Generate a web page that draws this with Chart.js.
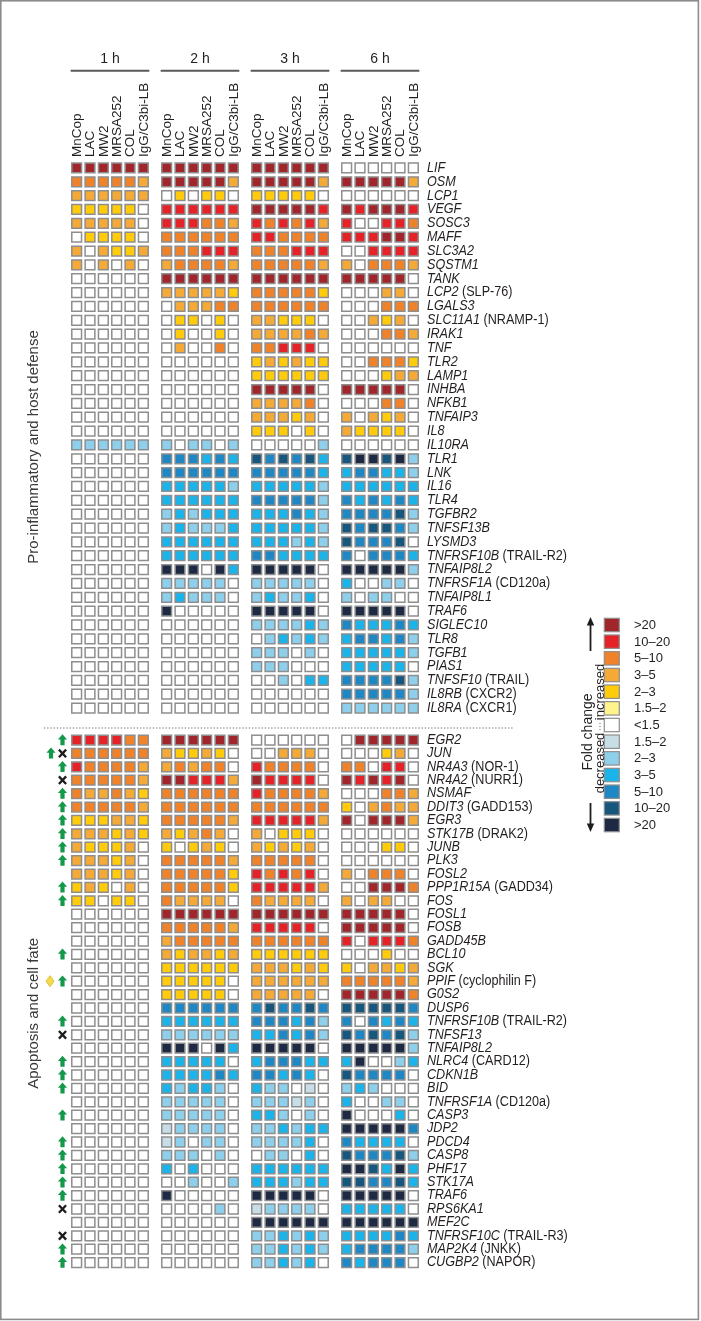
<!DOCTYPE html>
<html><head><meta charset="utf-8">
<script src="https://cdn.jsdelivr.net/npm/chart.js@4.4.0/dist/chart.umd.min.js"></script>
<style>html,body{margin:0;padding:0;background:#fff;}canvas{display:block;}</style>
</head><body>
<div style="width:701px;height:1321px;position:relative"><canvas id="c" width="701" height="1321"></canvas></div>
<script>
// ---------- DATA ----------
const times = ['1 h', '2 h', '3 h', '6 h'];
const conditions = ['MnCop', 'LAC', 'MW2', 'MRSA252', 'COL', 'IgG/C3bi-LB'];
const sections = ['Pro-inflammatory and host defense', 'Apoptosis and cell fate'];
const legendLabels = ['>20', '10–20', '5–10', '3–5', '2–3', '1.5–2', '<1.5', '1.5–2', '2–3', '3–5', '5–10', '10–20', '>20'];
const legendLevels = [6, 5, 4, 3, 2, 1, 0, -1, -2, -3, -4, -5, -6];

const genesTop = ['LIF','OSM','LCP1','VEGF','SOSC3','MAFF','SLC3A2','SQSTM1','TANK','LCP2 (SLP-76)',
  'LGALS3','SLC11A1 (NRAMP-1)','IRAK1','TNF','TLR2','LAMP1','INHBA','NFKB1','TNFAIP3','IL8',
  'IL10RA','TLR1','LNK','IL16','TLR4','TGFBR2','TNFSF13B','LYSMD3','TNFRSF10B (TRAIL-R2)','TNFAIP8L2',
  'TNFRSF1A (CD120a)','TNFAIP8L1','TRAF6','SIGLEC10','TLR8','TGFB1','PIAS1','TNFSF10 (TRAIL)','IL8RB (CXCR2)','IL8RA (CXCR1)'];
const genesBottom = ['EGR2','JUN','NR4A3 (NOR-1)','NR4A2 (NURR1)','NSMAF','DDIT3 (GADD153)','EGR3','STK17B (DRAK2)','JUNB','PLK3',
  'FOSL2','PPP1R15A (GADD34)','FOS','FOSL1','FOSB','GADD45B','BCL10','SGK','PPIF (cyclophilin F)','G0S2',
  'DUSP6','TNFRSF10B (TRAIL-R2)','TNFSF13','TNFAIP8L2','NLRC4 (CARD12)','CDKN1B','BID','TNFRSF1A (CD120a)','CASP3','JDP2',
  'PDCD4','CASP8','PHF17','STK17A','TRAF6','RPS6KA1','MEF2C','TNFRSF10C (TRAIL-R3)','MAP2K4 (JNKK)','CUGBP2 (NAPOR)'];
const markersBottom = ['up','upx','up','x','up','up','up','up','up','up',
  '','up','up','','','','up','','dup','',
  '','up','x','','up','up','up','','up','',
  'up','up','up','up','up','x','','x','up','up'];

// fold-change class per cell: +6 (>20 up) ... 0 (<1.5) ... -6 (>20 down); 24 columns = 4 times x 6 conditions
const levelsTop = [
 [6,6,6,6,6,6, 6,6,6,6,6,6, 6,6,6,6,6,6, 0,0,0,0,0,0],
 [4,4,4,4,4,3, 6,6,6,6,6,3, 6,6,6,6,6,3, 6,6,6,6,6,3],
 [3,3,3,3,3,3, 0,2,0,2,2,0, 2,2,2,2,2,0, 0,0,0,0,0,0],
 [2,2,2,2,2,0, 5,5,5,5,5,5, 6,6,6,6,6,5, 6,5,6,6,6,5],
 [3,3,3,3,3,0, 5,5,5,4,4,3, 5,4,5,4,5,3, 5,0,0,5,5,4],
 [0,2,2,2,2,0, 4,4,4,4,4,4, 5,5,4,4,4,4, 5,5,5,6,6,5],
 [3,0,3,2,2,3, 4,4,4,5,5,5, 4,4,4,5,5,5, 0,0,5,5,5,5],
 [3,0,3,0,3,0, 3,4,4,4,4,3, 4,4,4,4,4,3, 3,0,4,4,4,3],
 [0,0,0,0,0,0, 6,6,6,6,6,6, 6,6,6,6,6,6, 6,6,6,6,6,0],
 [0,0,0,0,0,0, 3,3,3,3,3,2, 4,4,4,4,4,2, 0,0,0,3,3,0],
 [0,0,0,0,0,0, 0,3,3,3,4,4, 4,4,4,4,4,4, 0,0,0,4,4,4],
 [0,0,0,0,0,0, 0,2,2,0,2,0, 3,3,2,2,2,0, 0,0,3,2,3,0],
 [0,0,0,0,0,0, 0,2,0,0,2,0, 3,3,3,3,4,3, 0,0,0,4,4,3],
 [0,0,0,0,0,0, 0,3,0,0,4,0, 4,4,5,5,5,0, 0,0,0,0,0,0],
 [0,0,0,0,0,0, 0,0,0,0,0,0, 2,3,2,3,2,2, 0,0,4,4,4,2],
 [0,0,0,0,0,0, 0,0,0,0,0,0, 2,2,2,2,2,2, 0,0,0,2,3,3],
 [0,0,0,0,0,0, 0,0,0,0,0,0, 6,6,6,6,6,0, 6,6,6,6,6,0],
 [0,0,0,0,0,0, 0,0,0,0,0,0, 3,3,3,3,4,0, 0,0,0,4,4,0],
 [0,0,0,0,0,0, 0,0,0,0,0,0, 3,3,3,2,3,0, 3,0,3,2,3,0],
 [0,0,0,0,0,0, 0,0,0,0,0,0, 2,2,2,0,2,0, 3,2,2,2,2,0],
 [-2,-2,-2,-2,-2,-2, -2,0,-2,-2,0,-2, 0,0,0,0,0,-2, 0,0,0,0,0,0],
 [0,0,0,0,0,0, -4,-4,-4,-3,-4,-3, -5,-4,-5,-4,-5,-3, -5,-6,-6,-5,-6,-2],
 [0,0,0,0,0,0, -4,-4,-4,-4,-4,-4, -4,-4,-4,-4,-4,-3, -3,-4,-4,-3,-3,-2],
 [0,0,0,0,0,0, -3,-3,-3,-3,-3,-2, -3,-3,-3,-3,-3,-2, -3,-3,-3,-3,-3,-3],
 [0,0,0,0,0,0, -3,-3,-3,-3,-3,-3, -4,-4,-4,-4,-4,-2, -4,-3,-4,-3,-4,-3],
 [0,0,0,0,0,0, -2,-3,-2,-3,-3,-3, -3,-3,-3,-4,-3,-2, -4,-4,-4,-4,-5,-2],
 [0,0,0,0,0,0, -2,-3,-2,-2,-2,-3, -3,-3,-3,-3,-3,-2, -5,-4,-5,-5,-4,-2],
 [0,0,0,0,0,0, -3,-3,-3,-3,-3,-3, -3,-3,-3,-2,-3,-2, -5,-4,-4,-4,-5,0],
 [0,0,0,0,0,0, -3,-3,-3,-3,-3,-3, -4,-4,-3,-3,-3,-3, -4,0,-4,-4,-4,-3],
 [0,0,0,0,0,0, -6,-6,-6,0,-6,-3, -6,-6,-6,-6,-6,0, -6,-6,-6,-6,-6,-2],
 [0,0,0,0,0,0, -2,-2,-2,-2,-2,0, -2,-2,-2,-2,-2,0, -3,0,0,-2,-2,0],
 [0,0,0,0,0,0, -2,-3,-2,-2,-2,0, -2,-3,-2,-2,-3,0, -2,0,-2,-2,0,0],
 [0,0,0,0,0,0, -6,0,0,0,0,0, -6,-6,-6,-6,-6,0, -6,-6,-6,-6,-6,0],
 [0,0,0,0,0,0, 0,0,0,0,0,0, -2,-2,-2,-2,-3,-2, -4,-3,-3,-3,-4,-3],
 [0,0,0,0,0,0, 0,0,0,0,0,0, 0,-2,-3,-2,-3,-2, -3,-4,-4,-3,-4,-2],
 [0,0,0,0,0,0, 0,0,0,0,0,0, -2,-2,-2,0,-2,0, -3,-3,-3,-3,-3,-2],
 [0,0,0,0,0,0, 0,0,0,0,0,0, -2,-2,-2,0,0,0, -3,-3,-3,-3,-3,0],
 [0,0,0,0,0,0, 0,0,0,0,0,0, 0,0,-2,0,-3,-3, -4,-4,-4,-4,-5,-2],
 [0,0,0,0,0,0, 0,0,0,0,0,0, 0,0,0,0,0,0, -4,-4,-4,-4,-4,-2],
 [0,0,0,0,0,0, 0,0,0,0,0,0, 0,0,0,0,0,0, -2,-2,-2,-2,-2,-2]
];
const levelsBottom = [
 [5,5,5,5,4,4, 6,6,6,6,6,6, 0,0,0,0,0,0, 0,6,6,6,6,6],
 [4,4,4,4,4,4, 3,2,2,3,2,0, 0,0,3,3,3,0, 0,0,0,2,3,0],
 [5,4,4,4,4,3, 3,4,3,4,4,0, 5,4,4,4,4,0, 4,4,0,5,5,0],
 [4,4,4,4,4,3, 6,6,5,5,5,3, 6,5,5,5,5,0, 6,5,6,5,6,0],
 [4,3,3,4,3,2, 4,4,4,4,4,4, 5,4,4,4,4,3, 0,0,0,4,4,3],
 [4,4,4,4,4,3, 4,4,4,4,4,4, 4,4,4,4,4,4, 2,0,3,4,3,3],
 [2,2,2,3,3,2, 4,4,4,4,4,3, 5,5,5,5,5,3, 6,0,6,6,6,3],
 [3,3,3,2,3,2, 3,2,3,4,3,0, 3,0,2,2,2,0, 0,0,0,0,0,0],
 [3,2,2,2,3,0, 2,0,2,3,2,0, 3,2,3,2,3,0, 0,0,0,2,2,0],
 [3,3,3,2,3,0, 4,4,4,4,4,3, 4,4,4,4,4,0, 0,0,0,0,0,0],
 [3,3,3,2,3,0, 4,4,4,4,4,2, 5,4,5,4,5,0, 3,0,4,4,4,0],
 [2,3,2,0,3,0, 4,4,4,4,4,2, 5,5,5,5,5,3, 0,0,6,6,6,4],
 [2,2,0,2,2,0, 4,3,3,3,3,0, 4,3,3,3,3,0, 3,0,3,3,0,0],
 [0,0,0,0,0,0, 6,6,6,6,6,6, 6,6,6,6,6,6, 6,6,6,6,6,0],
 [0,0,0,0,0,0, 4,4,4,4,4,3, 5,5,5,5,5,0, 6,6,6,6,6,0],
 [0,0,0,0,0,0, 3,4,4,4,4,4, 4,4,4,4,4,4, 5,0,5,5,5,4],
 [0,0,0,0,0,0, 3,2,3,3,2,3, 2,2,2,2,2,2, 0,0,0,2,0,0],
 [0,0,0,0,0,0, 2,2,2,2,2,2, 3,3,3,2,3,2, 2,0,3,3,2,3],
 [0,0,0,0,0,0, 2,2,2,2,2,0, 3,3,3,3,3,3, 4,4,4,4,4,3],
 [0,0,0,0,0,0, 2,2,2,2,2,0, 3,3,3,3,3,0, 6,6,6,6,6,4],
 [0,0,0,0,0,0, -4,-4,-4,-4,-4,-4, -4,-5,-4,-4,-5,-4, -5,-5,-5,-5,-5,-4],
 [0,0,0,0,0,0, -3,-3,-3,-3,-3,-3, -4,-4,-4,-3,-4,-2, -4,0,-4,-3,-4,-3],
 [0,0,0,0,0,0, -2,-2,-2,-2,-2,-2, -3,-3,-4,-3,-4,-2, -5,-4,-5,-4,-5,-2],
 [0,0,0,0,0,0, -6,-6,-6,0,-6,-3, -6,-6,-6,-6,-6,0, -6,-6,-6,-6,-6,-2],
 [0,0,0,0,0,0, -3,-3,-3,-3,-3,0, -3,-4,-4,-4,-3,-3, -3,-6,0,0,-2,-3],
 [0,0,0,0,0,0, -3,-3,-3,-3,-4,-3, -4,-4,-3,-4,-3,0, -5,-4,-4,-4,-4,0],
 [0,0,0,0,0,0, -3,-2,-3,-3,-2,0, -3,-2,-2,0,-1,0, -2,-3,-2,0,0,0],
 [0,0,0,0,0,0, -2,-2,-2,-2,-2,0, -2,-2,-2,-1,-2,0, -3,0,0,-2,-2,0],
 [0,0,0,0,0,0, -2,-2,-2,-2,-2,0, -3,-3,-2,0,-2,0, -6,0,0,0,-3,0],
 [0,0,0,0,0,0, -1,-2,-2,-2,-2,0, -2,-2,-3,-2,-3,-3, -6,-6,-6,-6,-6,-4],
 [0,0,0,0,0,0, -1,-2,0,-2,-2,0, -2,-2,-2,-2,-3,0, -4,-3,-3,-3,-3,0],
 [0,0,0,0,0,0, -2,-2,-2,0,-2,0, 0,-2,-2,0,-3,0, -5,-4,-4,-4,-5,-2],
 [0,0,0,0,0,0, -3,0,-3,0,0,0, -3,-3,-3,-3,-3,-3, -6,-6,-5,-3,-6,-3],
 [0,0,0,0,0,0, 0,0,-2,0,0,-2, -3,-3,-3,-2,-3,-3, -5,-5,-4,-4,-5,-3],
 [0,0,0,0,0,0, -6,0,0,0,0,0, -6,-6,-6,-6,-6,0, -6,-6,-6,-6,-6,0],
 [0,0,0,0,0,0, 0,0,0,0,-2,0, -1,-2,-2,-2,-2,0, -3,-3,-3,-3,-3,0],
 [0,0,0,0,0,0, 0,0,0,0,0,0, -6,-6,-6,-6,-6,-6, -6,-6,-6,-6,-6,-6],
 [0,0,0,0,0,0, 0,0,0,0,0,0, -2,-2,-3,-2,-3,-2, -3,-3,-3,-3,-4,-3],
 [0,0,0,0,0,0, 0,0,0,0,0,0, -2,-2,-3,-2,-3,-2, -3,-4,-4,-4,-4,-2],
 [0,0,0,0,0,0, 0,0,0,0,0,0, -2,-2,-3,-2,-3,0, -4,-3,-4,-4,-4,0]
];

// ---------- STYLE ----------
const PALETTE = {'6':'#A1262C','5':'#E52228','4':'#F0822A','3':'#F5AA38','2':'#FFCB0A','1':'#FFF48C','0':'#FFFFFF',
  '-1':'#C8DEE7','-2':'#8ED0EC','-3':'#1BB4EA','-4':'#1F88C4','-5':'#17577E','-6':'#1E2A44'};
const SANS = '"Liberation Sans", Arial, sans-serif';
const GROUP_STEP = 6.75;
const CELL_BORDER = '#8e8e8e';

function buildPoints(levels) {
  const pts = [];
  levels.forEach((row, r) => row.forEach((v, i) => {
    const g = Math.floor(i / conditions.length), c = i % conditions.length;
    pts.push({x: g * GROUP_STEP + c, y: r, v});
  }));
  return pts;
}

const cellColor = ctx => PALETTE[String(ctx.raw.v)];

function drawArrowUp(ctx, cx, cy) {
  ctx.beginPath();
  ctx.moveTo(cx, cy - 5.8);
  ctx.lineTo(cx + 4.6, cy - 0.6);
  ctx.lineTo(cx + 2.1, cy - 0.6);
  ctx.lineTo(cx + 2.1, cy + 5.2);
  ctx.lineTo(cx - 2.1, cy + 5.2);
  ctx.lineTo(cx - 2.1, cy - 0.6);
  ctx.lineTo(cx - 4.6, cy - 0.6);
  ctx.closePath();
  ctx.fillStyle = '#14984a';
  ctx.fill();
}
function drawX(ctx, cx, cy) {
  ctx.beginPath();
  ctx.moveTo(cx - 3.6, cy - 3.8); ctx.lineTo(cx + 3.6, cy + 3.8);
  ctx.moveTo(cx + 3.6, cy - 3.8); ctx.lineTo(cx - 3.6, cy + 3.8);
  ctx.strokeStyle = '#1d1d1d'; ctx.lineWidth = 2.3; ctx.lineCap = 'butt';
  ctx.stroke();
}
function drawDiamond(ctx, cx, cy) {
  ctx.beginPath();
  ctx.moveTo(cx, cy - 5.5); ctx.lineTo(cx + 4, cy); ctx.lineTo(cx, cy + 5.5); ctx.lineTo(cx - 4, cy);
  ctx.closePath();
  ctx.fillStyle = '#f6dc4c'; ctx.fill();
  ctx.strokeStyle = '#d2b520'; ctx.lineWidth = 0.8; ctx.stroke();
}
function drawGene(ctx, label, px, py) {
  const m = label.match(/^(\S+)(\s+\(.*\))?$/);
  ctx.save();
  ctx.translate(px, py);
  ctx.scale(0.9, 1);
  ctx.textAlign = 'left'; ctx.textBaseline = 'middle'; ctx.fillStyle = '#231f20';
  ctx.font = 'italic 14px ' + SANS;
  ctx.fillText(m[1], 0, 0);
  if (m[2]) {
    const w = ctx.measureText(m[1]).width;
    ctx.font = '14px ' + SANS;
    ctx.fillText(m[2], w, 0);
  }
  ctx.restore();
}
function rotText(ctx, txt, x, y, align, baseline) {
  ctx.save(); ctx.translate(x, y); ctx.rotate(-Math.PI / 2);
  ctx.textAlign = align; ctx.textBaseline = baseline || 'middle';
  ctx.fillText(txt, 0, 0); ctx.restore();
}

const decor = {
  id: 'decor',
  beforeDraw(chart) {
    const ctx = chart.ctx;
    ctx.save();
    ctx.fillStyle = '#fff'; ctx.fillRect(0, 0, chart.width, chart.height);
    ctx.strokeStyle = '#8c8c8c'; ctx.lineWidth = 1.6;
    ctx.strokeRect(0.8, 0.8, 697.6, 1318.6);
    ctx.restore();
  },
  afterDatasetsDraw(chart) {
    const ctx = chart.ctx;
    const {x, yt, yb} = chart.scales;
    ctx.save();
    // time headers and group lines
    times.forEach((t, g) => {
      const x0 = x.getPixelForValue(g * GROUP_STEP), x1 = x.getPixelForValue(g * GROUP_STEP + conditions.length - 1);
      ctx.fillStyle = '#231f20'; ctx.font = '14px ' + SANS; ctx.textAlign = 'center'; ctx.textBaseline = 'middle';
      ctx.fillText(t, (x0 + x1) / 2, 59.5);
      ctx.beginPath(); ctx.moveTo(x0 - 6, 70.8); ctx.lineTo(x1 + 6, 70.8);
      ctx.strokeStyle = '#5a5a5a'; ctx.lineWidth = 2; ctx.stroke();
      // condition labels
      ctx.font = '13.5px ' + SANS; ctx.fillStyle = '#231f20';
      conditions.forEach((c, ci) => rotText(ctx, c, x.getPixelForValue(g * GROUP_STEP + ci) + 0.5, 157, 'left'));
    });
    // gene labels
    const lx = x.right + 7;
    genesTop.forEach((gname, r) => drawGene(ctx, gname, lx, yt.getPixelForValue(r)));
    genesBottom.forEach((gname, r) => drawGene(ctx, gname, lx, yb.getPixelForValue(r)));
    // section separator
    const sepY = (yt.getPixelForValue(genesTop.length - 1) + yb.getPixelForValue(0)) / 2 + 4;
    ctx.beginPath(); ctx.setLineDash([1.3, 1.9]); ctx.moveTo(44, sepY); ctx.lineTo(514, sepY);
    ctx.strokeStyle = '#9a9a9a'; ctx.lineWidth = 1.6; ctx.stroke(); ctx.setLineDash([]);
    // section labels
    ctx.fillStyle = '#3a3a3a'; ctx.font = '15px ' + SANS;
    rotText(ctx, sections[0], 33.5, (yt.getPixelForValue(0) + yt.getPixelForValue(genesTop.length - 1)) / 2 + 9, 'center');
    rotText(ctx, sections[1], 33.5, (yb.getPixelForValue(0) + yb.getPixelForValue(genesBottom.length - 1)) / 2 + 12, 'center');
    // markers
    markersBottom.forEach((m, r) => {
      const cy = yb.getPixelForValue(r);
      if (m === 'up') drawArrowUp(ctx, 62.5, cy);
      else if (m === 'x') drawX(ctx, 62.5, cy);
      else if (m === 'upx') { drawArrowUp(ctx, 51, cy); drawX(ctx, 62.5, cy); }
      else if (m === 'dup') { drawDiamond(ctx, 50, cy); drawArrowUp(ctx, 62.5, cy); }
    });
    // colour legend
    const bx = 604.3, by = 618.3, step = 16.67;
    legendLevels.forEach((lv, i) => {
      const y0 = by + i * step;
      ctx.fillStyle = PALETTE[String(lv)]; ctx.fillRect(bx, y0, 15, 13.4);
      ctx.strokeStyle = CELL_BORDER; ctx.lineWidth = 1.2; ctx.strokeRect(bx, y0, 15, 13.4);
      ctx.fillStyle = '#231f20'; ctx.font = '13px ' + SANS; ctx.textAlign = 'left'; ctx.textBaseline = 'middle';
      ctx.fillText(legendLabels[i], 634, y0 + 7);
    });
    // legend arrows
    ctx.strokeStyle = '#1d1d1d'; ctx.fillStyle = '#1d1d1d'; ctx.lineWidth = 1.8;
    ctx.beginPath(); ctx.moveTo(590.5, 651); ctx.lineTo(590.5, 623); ctx.stroke();
    ctx.beginPath(); ctx.moveTo(590.5, 617); ctx.lineTo(586.8, 625.5); ctx.lineTo(594.2, 625.5); ctx.closePath(); ctx.fill();
    ctx.beginPath(); ctx.moveTo(590.5, 803); ctx.lineTo(590.5, 826); ctx.stroke();
    ctx.beginPath(); ctx.moveTo(590.5, 832); ctx.lineTo(586.8, 823.5); ctx.lineTo(594.2, 823.5); ctx.closePath(); ctx.fill();
    ctx.fillStyle = '#231f20';
    // rotated: 'alphabetic' baseline sits on the right side of the glyphs
    ctx.font = '14px ' + SANS; rotText(ctx, 'Fold change', 592, 732, 'center', 'alphabetic');
    ctx.font = '13px ' + SANS;
    rotText(ctx, 'increased', 603.5, 692, 'center', 'alphabetic');
    rotText(ctx, 'decreased', 603.5, 763, 'center', 'alphabetic');
    ctx.fillStyle = '#8a8a8a';
    [723.5, 726.5, 729.5].forEach(yy => { ctx.beginPath(); ctx.arc(600, yy, 0.7, 0, Math.PI * 2); ctx.fill(); });
    ctx.restore();
  }
};

const common = {
  pointStyle: 'rect', pointRadius: 6.9, pointHoverRadius: 6.9,
  pointBackgroundColor: cellColor, pointHoverBackgroundColor: cellColor,
  pointBorderColor: CELL_BORDER, pointBorderWidth: 1.5, pointHoverBorderWidth: 1.5,
  showLine: false, clip: false
};

new Chart(document.getElementById('c'), {
  type: 'scatter',
  data: {
    datasets: [
      Object.assign({label: sections[0], data: buildPoints(levelsTop), xAxisID: 'x', yAxisID: 'yt'}, common),
      Object.assign({label: sections[1], data: buildPoints(levelsBottom), xAxisID: 'x', yAxisID: 'yb'}, common)
    ]
  },
  options: {
    responsive: false, animation: false, devicePixelRatio: 1, events: [],
    layout: {padding: {left: 70, right: 281, top: 161, bottom: 51.7}},
    plugins: {legend: {display: false}, tooltip: {enabled: false}},
    scales: {
      x: {type: 'linear', min: -0.5, max: 3 * GROUP_STEP + 5.5, display: false},
      yt: {type: 'linear', axis: 'y', reverse: true, min: -0.5, max: 79.52, display: false},
      yb: {type: 'linear', axis: 'y', reverse: true, min: -43.21, max: 39.5, display: false}
    }
  },
  plugins: [decor]
});
</script>
</body></html>
